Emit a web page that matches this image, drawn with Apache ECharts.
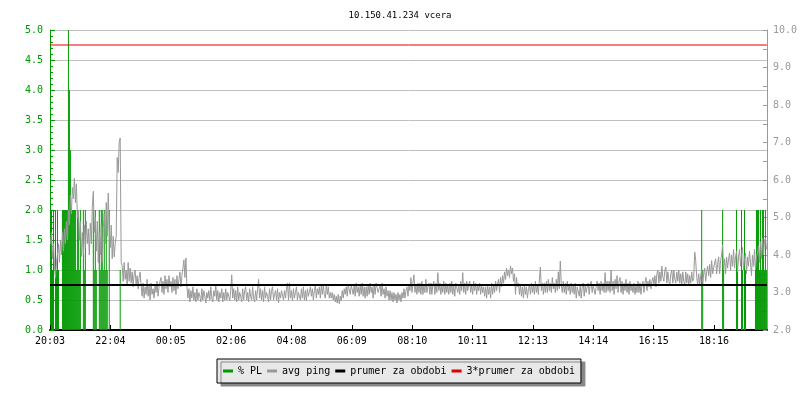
<!DOCTYPE html>
<html><head><meta charset="utf-8">
<script src="https://cdn.jsdelivr.net/npm/echarts@6/dist/echarts.min.js"></script>
<style>html,body{margin:0;padding:0;background:#fff}#c{width:800px;height:400px}</style>
</head><body><div id="c"></div>
<script>
const chartTitle = '10.150.41.234 vcera';
const tickLabels = ['20:03','22:04','00:05','02:06','04:08','06:09','08:10','10:11','12:13','14:14','16:15','18:16'];
const tickStepMin = 121.25;   // minutes between time ticks
const spanMin = 1440;          // minutes shown
const seriesNames = ['% PL', 'avg ping', 'prumer za obdobi', '3*prumer za obdobi'];
// avg ping in ms, one sample every 2 minutes starting 20:03
const pingMs = [
4.3,4.6,3.9,4.3,3.7,3.4,3.8,4.0,
4.3,3.8,4.4,4.0,4.6,4.1,4.7,4.3,4.9,4.4,
5.2,4.8,5.6,5.1,5.8,5.5,6.05,5.4,5.9,5.0,
5.2,4.4,4.9,3.96,4.6,4.0,4.8,4.2,4.9,4.3,4.7,4.0,4.85,
4.3,5.3,5.7,4.6,5.0,
4.1,4.9,3.8,4.6,4.0,4.8,3.8,4.7,5.1,4.3,5.4,4.5,5.65,4.7,4.2,
4.8,3.9,4.5,3.95,4.3,
4.5,6.6,6.2,7.0,7.12,3.8,
3.7,3.3,3.8,3.35,3.6,3.2,3.8,3.3,3.65,3.25,3.55,3.15,3.5,3.6,3.2,3.45,3.1,3.4,3.55,
3.2,2.9,3.25,2.85,3.15,2.95,3.35,2.9,3.2,2.8,
3.25,2.95,3.1,2.85,3.2,3.0,3.3,2.9,3.15,3.3,
3.4,3.0,3.3,2.95,3.45,3.1,3.35,3.0,3.45,3.15,
3.3,3.0,3.4,3.05,3.35,2.95,3.45,3.1,3.35,3.55,3.15,3.45,3.65,3.87,3.4,3.92,
3.15,2.85,3.1,2.75,3.05,2.85,3.15,2.8,3.0,2.75,
3.1,2.8,3.0,2.9,2.75,3.1,2.8,3.05,2.9,2.72,
3.0,2.85,3.05,2.8,3.15,2.85,2.75,3.05,2.9,3.2,
2.8,3.05,2.75,3.0,2.85,3.1,2.75,3.0,2.8,3.1,
2.8,3.0,2.9,2.78,
3.05,3.47,
2.85,3.1,2.8,3.05,2.75,3.15,2.8,3.0,2.9,2.75,
3.1,2.8,3.05,3.15,2.8,3.0,2.75,3.1,2.9,2.8,
3.15,2.85,2.75,3.05,2.8,3.1,
3.35,
2.85,3.1,2.8,3.05,2.75,3.15,2.85,3.0,2.9,2.75,
3.1,2.8,3.05,3.15,2.8,2.95,3.05,2.8,3.1,2.72,
3.0,2.85,3.05,3.1,2.8,3.05,2.85,3.1,3.25,2.8,
3.25,2.85,3.05,2.78,3.1,2.85,3.0,3.15,2.8,3.0,
3.05,2.8,3.1,2.85,3.15,2.8,3.05,2.78,3.1,2.9,
2.85,3.15,2.9,3.1,2.8,3.05,3.2,2.85,3.1,2.95,
3.15,2.85,3.2,2.95,3.2,2.95,2.85,3.2,2.95,3.15,2.85,
3.0,2.85,3.0,2.8,2.95,2.75,2.9,2.72,2.95,2.7,
2.9,2.78,3.05,2.85,3.1,2.95,3.15,2.9,3.2,3.25,
2.95,3.2,3.25,2.95,3.2,2.9,3.25,3.0,3.15,2.9,
3.2,2.95,3.25,2.9,3.15,2.85,3.15,2.9,3.2,2.95,
3.25,3.0,3.15,2.85,3.2,2.95,3.25,3.3,3.0,3.1,
3.2,2.9,3.25,2.95,3.1,2.85,3.15,2.9,3.05,2.8,
3.05,2.8,3.0,2.75,3.0,2.8,2.95,2.72,3.0,2.8,
2.95,2.75,3.0,2.85,3.1,2.85,3.05,3.15,2.9,3.2,
3.05,3.4,3.0,3.25,3.47,3.0,3.2,2.95,3.25,3.0,
3.25,2.95,3.3,2.95,3.2,3.0,3.35,3.0,3.15,3.25,
2.95,3.25,2.95,3.2,3.3,2.95,3.25,3.0,3.53,3.05,
3.25,2.95,3.2,3.0,3.3,2.95,3.25,3.0,3.2,2.95,
3.25,3.0,3.3,2.95,3.2,2.9,3.25,3.3,3.0,3.2,
2.95,3.3,3.05,3.53,3.0,3.25,2.95,3.3,3.05,3.2,
3.3,3.0,3.2,2.95,3.3,3.05,3.25,2.95,3.2,3.05,
3.25,2.95,3.2,3.0,3.15,
2.9,3.15,2.85,3.2,2.95,3.15,2.85,3.25,2.95,3.2,
3.0,3.3,3.05,3.25,3.35,3.0,3.4,3.15,3.45,3.25,
3.55,3.35,3.65,3.45,3.6,3.4,3.71,3.5,3.65,3.3,
3.5,2.95,3.4,3.15,3.25,
2.95,3.2,2.9,3.15,2.85,3.2,2.95,3.15,2.85,3.1,
3.2,2.95,3.25,3.0,3.2,2.95,3.3,3.0,3.2,2.95,
3.35,3.68,3.05,3.25,2.95,
3.25,3.0,3.3,3.0,3.35,3.05,3.25,3.0,3.4,3.1,
3.25,3.0,3.35,3.05,3.55,3.1,3.84,3.2,3.0,3.3,
3.0,3.25,2.95,3.3,3.05,
3.2,2.95,3.25,3.0,3.2,2.95,3.25,2.85,3.15,3.2,
2.9,3.2,2.85,3.15,3.25,2.9,3.2,3.0,3.15,3.25,
2.95,3.2,3.3,3.0,3.2,3.25,2.95,3.15,3.3,3.05,
3.25,2.95,3.3,3.05,3.25,3.0,3.53,3.0,3.3,3.05,
3.3,3.0,3.6,3.05,3.3,2.95,3.35,3.1,3.45,3.0,
3.3,3.4,3.0,3.3,2.95,3.25,3.05,3.35,3.0,3.25,
2.95,3.3,3.05,3.2,
3.0,3.25,2.95,3.2,3.0,3.3,3.0,3.25,2.95,3.2,
3.3,3.0,3.25,3.4,3.05,3.3,3.15,3.35,3.1,3.3,3.4,
3.2,3.45,3.15,3.5,3.6,3.25,3.55,3.3,3.7,3.4,
3.3,3.6,3.68,3.25,3.55,3.3,3.2,3.5,3.6,3.25,
3.6,3.35,3.25,3.55,3.3,3.6,3.25,3.5,3.2,3.55,
3.3,3.2,3.55,3.25,3.5,3.2,3.45,3.25,3.55,3.3,3.4,
4.08,3.85,3.4,3.2,3.5,3.2,3.45,3.6,3.25,3.5,3.65,3.3,3.55,3.7,
3.45,3.75,3.4,3.85,3.5,3.45,3.8,3.9,3.5,3.75,
3.95,3.5,3.85,4.0,4.27,3.6,3.9,3.5,3.95,3.65,
3.9,4.05,3.6,4.0,3.7,4.15,3.65,3.95,4.1,3.55,
3.95,4.15,3.7,4.0,4.2,3.6,3.9,4.05,3.5,3.95,
3.7,4.1,3.8,3.45,4.0,3.7,4.15,3.6,3.95,4.05,
4.25,3.8,4.35,3.9,4.45,4.0,4.35,4.45,4.15
];
// packet loss events: [sample index, % PL]
const plEvents = [
[1,2],[2,1],[3,2],[5,2],[6,1],[7,2],[8,1],[12,2],[13,2],[14,2],[15,2],[16,2],[17,2],
[18,5],[19,4],[20,3],[21,2],[22,2],[23,2],[24,2],[25,2],[26,1],[27,2],[28,2],[29,1],[30,2],
[33,2],[34,1],[35,2],[43,2],[44,1],[45,2],[46,1],[49,2],[50,1],[51,2],[52,2],[53,1],[54,2],
[55,1],[56,2],[57,1],[59,2],[70,1],
[654,2],[655,1],[675,2],[676,1],[689,2],[690,1],[694,2],[695,1],[697,2],[698,1],
[708,1],[709,2],[710,2],[711,2],[712,1],[713,2],[714,1],[715,2],[716,2],[717,1],[718,2],[719,1]
];
const avgPing = 3.2;
const avgPingX3 = 9.6;

const FONT = 'DejaVu Sans Mono';
const sampleIdx = pingMs.map((_, i) => i);
const chart = echarts.init(document.getElementById('c'), null, {renderer: 'canvas'});
chart.setOption({
  animation: false,
  backgroundColor: '#ffffff',
  textStyle: {fontFamily: FONT},
  title: {
    text: chartTitle, left: 'center', top: 6,
    textStyle: {fontFamily: FONT, fontSize: 9, fontWeight: 'normal', color: '#000'}
  },
  legend: {
    data: seriesNames, left: 217, top: 359, icon: 'rect',
    itemWidth: 10, itemHeight: 3, itemGap: 5, padding: [7, 6],
    backgroundColor: '#e8e8e8', borderColor: '#000', borderWidth: 1,
    shadowColor: '#888', shadowOffsetX: 4, shadowOffsetY: 3, shadowBlur: 0,
    selectedMode: false,
    itemStyle: {borderWidth: 0},
    textStyle: {fontFamily: FONT, fontSize: 10, color: '#000'}
  },
  grid: {left: 50, right: 30, top: 30, bottom: 70},
  xAxis: [
    {type: 'category', data: sampleIdx, boundaryGap: true, show: false},
    {
      type: 'value', min: 0, max: spanMin, interval: tickStepMin, position: 'bottom',
      axisLine: {show: true, lineStyle: {color: '#000', width: 2}},
      axisTick: {show: true, inside: true, length: 5, lineStyle: {color: '#000'}},
      splitLine: {show: false},
      axisLabel: {
        color: '#000', fontFamily: FONT, fontSize: 10, margin: 6, showMaxLabel: false,
        formatter: v => {
          const k = Math.round(v / tickStepMin);
          return (Math.abs(k * tickStepMin - v) < 1e-6 && k < tickLabels.length) ? tickLabels[k] : '';
        }
      }
    }
  ],
  yAxis: [
    {
      type: 'value', min: 0, max: 5, interval: 0.5, position: 'left',
      axisLine: {show: true, lineStyle: {color: '#009900'}},
      axisTick: {show: true, inside: true, length: 5, lineStyle: {color: '#009900'}},
      minorTick: {show: true, splitNumber: 5, length: 3, lineStyle: {color: '#009900'}},
      axisLabel: {color: '#009900', fontFamily: FONT, fontSize: 10, margin: 7, formatter: v => v.toFixed(1)},
      splitLine: {show: true, lineStyle: {color: '#c0c0c0', width: 1}}
    },
    {
      type: 'value', min: 2, max: 10, interval: 1, position: 'right',
      axisLine: {show: true, lineStyle: {color: '#999'}},
      axisTick: {show: true, inside: true, length: 4, lineStyle: {color: '#999'}},
      minorTick: {show: true, splitNumber: 2, length: 4, lineStyle: {color: '#999'}},
      axisLabel: {color: '#999', fontFamily: FONT, fontSize: 10, margin: 6, formatter: v => v.toFixed(1)},
      splitLine: {show: false}
    }
  ],
  series: [
    {
      name: seriesNames[0], type: 'bar', xAxisIndex: 0, yAxisIndex: 0,
      data: plEvents, barWidth: 1, itemStyle: {color: '#009900'}, z: 1
    },
    {
      name: seriesNames[1], type: 'line', xAxisIndex: 0, yAxisIndex: 1,
      data: pingMs, symbol: 'none', showSymbol: false,
      lineStyle: {color: '#999999', width: 1}, itemStyle: {color: '#999999'}, z: 2
    },
    {
      name: seriesNames[2], type: 'line', xAxisIndex: 1, yAxisIndex: 1,
      data: [[0, avgPing], [spanMin, avgPing]], symbol: 'none',
      lineStyle: {color: '#000', width: 2}, itemStyle: {color: '#000'}, z: 3
    },
    {
      name: seriesNames[3], type: 'line', xAxisIndex: 1, yAxisIndex: 1,
      data: [[0, avgPingX3], [spanMin, avgPingX3]], symbol: 'none',
      lineStyle: {color: '#e00000', width: 1}, itemStyle: {color: '#e00000'}, z: 3
    }
  ]
});
</script></body></html>
